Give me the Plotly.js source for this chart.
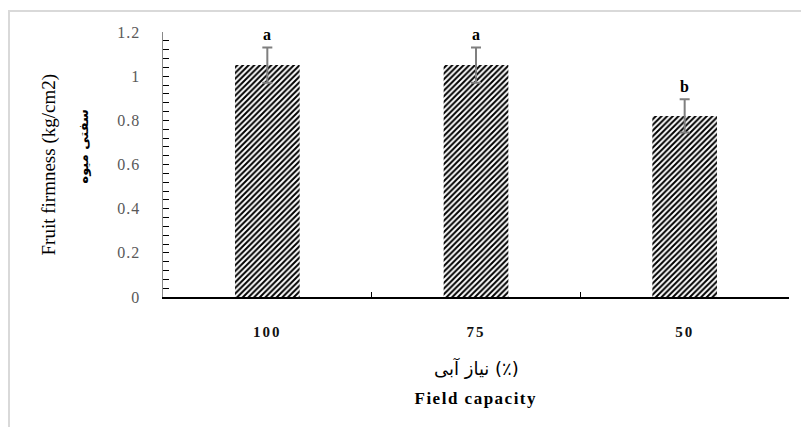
<!DOCTYPE html>
<html>
<head>
<meta charset="utf-8">
<script src="https://cdn.plot.ly/plotly-3.0.1.min.js"></script>
<style>
html,body{margin:0;padding:0;background:#fff;overflow:hidden;}
#frame{position:absolute;left:8px;top:10px;width:900px;height:500px;border-left:2px solid #d9d9d9;border-top:2px solid #d9d9d9;}
#chart{position:absolute;left:0;top:0;width:801px;height:427px;}
</style>
</head>
<body>
<div id="frame"></div>
<div id="chart"></div>
<script>
const categories = ["100", "75", "50"];
const firmness = [1.05, 1.05, 0.82];
const errors = [0.08, 0.08, 0.075];
const letters = ["a", "a", "b"];
const yTitleEn = "Fruit firmness (kg/cm2)";
const yTitleFa = "سفتی میوه";
const xTitleFa = "نیاز آبی (٪)";
const xTitleEn = "Field capacity";

const serif = "Liberation Serif, Times New Roman, serif";

const trace = {
  type: "bar",
  x: categories,
  y: firmness,
  marker: {
    color: "#ffffff",
    line: {width: 0},
    pattern: {shape: "/", fgcolor: "#000000", bgcolor: "#ffffff", size: 4, solidity: 0.5}
  },
  error_y: {type: "data", array: errors, visible: true, color: "#7f7f7f", thickness: 2, width: 5},
  hoverinfo: "none"
};

const annotations = [];
categories.forEach((c, i) => {
  annotations.push({
    x: i, y: firmness[i] + errors[i], xref: "x", yref: "y",
    text: "<b>" + letters[i] + "</b>", showarrow: false,
    yanchor: "bottom", yshift: 2,
    font: {family: serif, size: 16, color: "#000"}
  });
});
annotations.push({
  x: 0, y: 0.5, xref: "paper", yref: "paper", xanchor: "center", yanchor: "middle",
  xshift: -115, text: yTitleEn, textangle: -90, showarrow: false,
  font: {family: serif, size: 19, color: "#000"}
});
annotations.push({
  x: 0, y: 0.5, xref: "paper", yref: "paper", xanchor: "center", yanchor: "middle",
  xshift: -80, yshift: 18, text: "<b>" + yTitleFa + "</b>", textangle: -90, showarrow: false,
  font: {family: "DejaVu Sans, sans-serif", size: 13, color: "#000"}
});
annotations.push({
  x: 0.5, y: 0, xref: "paper", yref: "paper", xanchor: "center", yanchor: "middle",
  yshift: -71, text: xTitleFa, showarrow: false,
  font: {family: "DejaVu Sans, sans-serif", size: 18, color: "#000"}
});
annotations.push({
  x: 0.5, y: 0, xref: "paper", yref: "paper", xanchor: "center", yanchor: "middle",
  yshift: -101, text: "<b>" + xTitleEn + "</b>", showarrow: false,
  font: {family: serif, size: 17, color: "#000"}
});

const layout = {
  width: 801, height: 427,
  margin: {l: 163, r: 12, t: 32, b: 130, pad: 0},
  paper_bgcolor: "rgba(0,0,0,0)",
  plot_bgcolor: "rgba(0,0,0,0)",
  showlegend: false,
  bargap: 0.69,
  xaxis: {
    type: "category",
    range: [-0.5, 2.5], autorange: false,
    showline: true, linecolor: "#000", linewidth: 1.5,
    ticks: "inside", tickson: "boundaries", ticklen: 5, tickcolor: "#000", tickwidth: 1,
    showgrid: false, zeroline: false,
    tickangle: 0,
    tickfont: {family: serif, size: 15, color: "#111", weight: "bold"},
    ticklabelstandoff: 20
  },
  yaxis: {
    range: [0, 1.2], autorange: false, dtick: 0.2, tick0: 0,
    showline: true, linecolor: "#888", linewidth: 1.5,
    ticks: "inside", ticklen: 6, tickcolor: "#000", tickwidth: 1,
    minor: {dtick: 0.04, ticks: "inside", ticklen: 6, tickcolor: "#000", tickwidth: 1, showgrid: false},
    showgrid: false, zeroline: false,
    tickfont: {family: serif, size: 16, color: "#595959"},
    ticklabelstandoff: 18
  },
  annotations: annotations
};

Plotly.newPlot("chart", [trace], layout, {displayModeBar: false, staticPlot: true}).then(function (gd) {
  gd.querySelectorAll(".xtick text").forEach(function (t) { t.style.letterSpacing = "2px"; });
  gd.querySelectorAll(".ytick text").forEach(function (t) { t.style.letterSpacing = "1px"; });
  gd.querySelectorAll(".annotation-text").forEach(function (t) {
    if (t.textContent === xTitleEn) t.style.letterSpacing = "1.5px";
  });
});
</script>
</body>
</html>
